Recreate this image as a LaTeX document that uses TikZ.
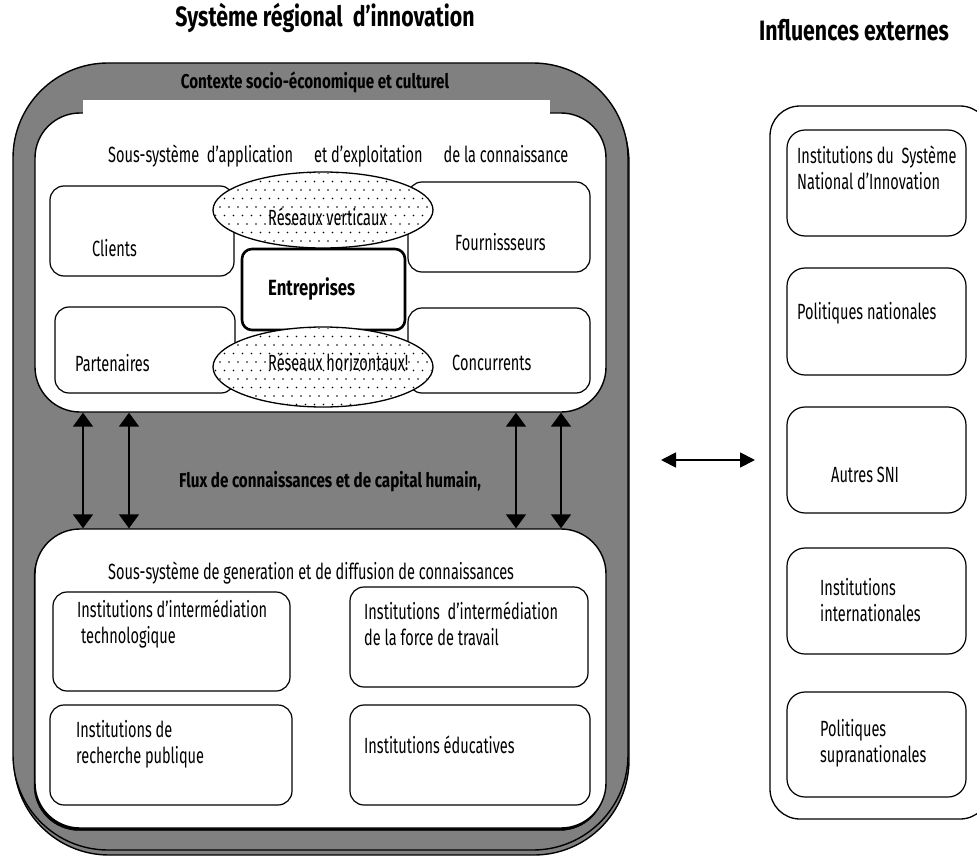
\documentclass[tikz,border=0pt]{standalone}
\usepackage{fontspec}
\setmainfont{Fira Sans}[FakeStretch=0.66]
\newfontfamily\bnarrow{Fira Sans}[FakeStretch=0.76]
\usetikzlibrary{arrows.meta,shapes.geometric}
\definecolor{bandgray}{RGB}{128,128,128}
\begin{document}
\begin{tikzpicture}[x=1pt,y=-1pt,
  outerbox/.style={draw=black, line width=1.4pt, fill=bandgray, rounded corners=95pt, inner sep=0pt},
  innerbox/.style={draw=black, line width=1.4pt, fill=white, rounded corners=45pt, inner sep=0pt},
  smallbox/.style={draw=black, line width=1.2pt, fill=white, rounded corners=14pt, inner sep=0pt},
  firmbox/.style={draw=black, line width=2.6pt, fill=white, rounded corners=10pt, inner sep=0pt},
  sidebox/.style={draw=black, line width=1.3pt, fill=white, rounded corners=30pt, inner sep=0pt},
  rbox/.style={draw=black, line width=1.2pt, fill=white, rounded corners=18pt, inner sep=0pt},
  netell/.style={draw=black, line width=1.3pt, fill=white, ellipse, inner sep=0pt},
  txt/.style={inner sep=0pt, font=\fontsize{22}{26}\selectfont, align=left},
  btxt/.style={inner sep=0pt, font=\fontsize{20}{24}\selectfont\bnarrow\bfseries},
  ttl/.style={inner sep=0pt, font=\fontsize{28}{32}\selectfont\bnarrow\bfseries},
  flow/.style={line width=1.8pt, {Triangle[width=20pt,length=14pt]}-{Triangle[width=20pt,length=14pt]}},
  hflow/.style={line width=1.8pt, {Triangle[width=15pt,length=15pt]}-{Triangle[width=15pt,length=15pt]}}
]
\useasboundingbox (0,0) rectangle (977,856);

% titles
\node[ttl] (t1) at (325,18) {Système régional\ \ d’innovation};
\node[ttl] (t2) at (854,30) {Influences externes};

% outer grey frame with shadow
\node[outerbox, minimum width=615pt, minimum height=787pt] (outsh) at (321.5,461.5) {};
\node[outerbox, minimum width=615pt, minimum height=787pt] (outer) at (320.5,456.5) {};
\node[btxt] (ctx) at (315,82) {Contexte socio-économique et culturel};

% upper subsystem
\node[innerbox, minimum width=571pt, minimum height=299pt] (up) at (320.5,262.5) {};
\fill[white] (83,100) rectangle (550,114.5);
\node[txt, anchor=west] (upt) at (108,156) {Sous-système\ \ d’application\hspace{21pt}et d’exploitation\hspace{21pt}de la connaissance};

\node[smallbox, minimum width=184pt, minimum height=90pt] (cli) at (142,231) {};
\node[smallbox, minimum width=182pt, minimum height=90pt] (fou) at (499,227) {};
\node[smallbox, minimum width=180pt, minimum height=86pt] (par) at (145,350) {};
\node[smallbox, minimum width=182pt, minimum height=85pt] (con) at (499,350.5) {};
\node[firmbox, minimum width=163pt, minimum height=81pt] (ent) at (323.5,289.5) {};

\node[txt, anchor=west] (clit) at (92,248) {Clients};
\node[txt, anchor=west] (fout) at (455,242) {Fournissseurs};
\node[txt, anchor=west] (part) at (75,363) {Partenaires};
\node[txt, anchor=west] (cont) at (452,363) {Concurrents};
\node[btxt, anchor=west, font=\fontsize{22}{26}\selectfont\bnarrow\bfseries] (entt) at (268,289) {Entreprises};

% networks ellipses with dots
\node[netell, minimum width=220pt, minimum height=76pt] (ev) at (323,210) {};
\begin{scope}
  \clip (323,210) ellipse [x radius=109, y radius=37];
  \foreach \r [evaluate=\r as \off using {mod(\r,2)*4.5}] in {0,...,9}
    \foreach \c in {0,...,25}
      \fill (211+\c*9+\off, 173+\r*8.5) circle (0.85);
\end{scope}
\node[txt, anchor=west] (evt) at (268,217) {Réseaux verticaux};

\node[netell, minimum width=220pt, minimum height=80pt] (eh) at (323,367) {};
\begin{scope}
  \clip (323,367) ellipse [x radius=109, y radius=39];
  \foreach \r [evaluate=\r as \off using {mod(\r,2)*4.5}] in {0,...,10}
    \foreach \c in {0,...,25}
      \fill (211+\c*9+\off, 328+\r*8.5) circle (0.85);
\end{scope}
\node[txt, anchor=west] (eht) at (268,362) {Réseaux horizontaux!};

% lower subsystem
\node[draw=black, fill=black, rounded corners=45pt, minimum width=571pt, minimum height=299pt, inner sep=0pt] (lowsh) at (319.5,681) {};
\node[innerbox, minimum width=571pt, minimum height=299pt] (low) at (320.5,678.5) {};
\node[txt, anchor=west] (lowt) at (108,573) {Sous-système de generation et de diffusion de connaissances};

\node[smallbox, minimum width=237pt, minimum height=99pt] (b1) at (171.5,641.5) {};
\node[smallbox, minimum width=238pt, minimum height=100pt] (b2) at (469,637) {};
\node[smallbox, minimum width=242pt, minimum height=100pt] (b3) at (171,755) {};
\node[smallbox, minimum width=240pt, minimum height=100pt] (b4) at (470,755) {};
\node[txt, anchor=west] (b1t) at (77,624) {Institutions d’intermédiation\\\ technologique};
\node[txt, anchor=west] (b2t) at (364,624) {Institutions\ \ d’intermédiation\\de la force de travail};
\node[txt, anchor=west] (b3t) at (76,744.5) {Institutions de\\recherche publique};
\node[txt, anchor=west] (b4t) at (364,745) {Institutions éducatives};

% flows between subsystems
\coordinate (a1) at (83,0);
\coordinate (a2) at (129,0);
\coordinate (a3) at (516,0);
\coordinate (a4) at (561,0);
\foreach \a in {a1,a2,a3,a4}
  \draw[flow] (up.south -| \a) -- (low.north -| \a);
\node[btxt] (flux) at (330,482) {Flux de connaissances et de capital humain,};

% external influences
\node[sidebox, minimum width=220pt, minimum height=713pt] (ext) at (880,462.5) {};
\node[rbox, minimum width=179pt, minimum height=106pt] (r1) at (876.5,183) {};
\node[rbox, minimum width=179pt, minimum height=107pt] (r2) at (876.5,321.5) {};
\node[rbox, minimum width=179pt, minimum height=106pt] (r3) at (876.5,460) {};
\node[rbox, minimum width=179pt, minimum height=106pt] (r4) at (876.5,601) {};
\node[rbox, minimum width=179pt, minimum height=105pt] (r5) at (876.5,744.5) {};
\node[txt, anchor=west] (r1t) at (797,168) {Institutions du\ \ Système\\National d’Innovation};
\node[txt, anchor=west] (r2t) at (797,313) {Politiques nationales};
\node[txt, anchor=west] (r3t) at (831,475) {Autres SNI};
\node[txt, anchor=west] (r4t) at (820,600) {Institutions\\internationales};
\node[txt, anchor=west] (r5t) at (820,743.5) {Politiques\\supranationales};

% link between regional system and external influences
\coordinate (h1) at (661,460);
\coordinate (h2) at (755,460);
\draw[hflow] (h1) -- (h2);
\end{tikzpicture}
\end{document}
